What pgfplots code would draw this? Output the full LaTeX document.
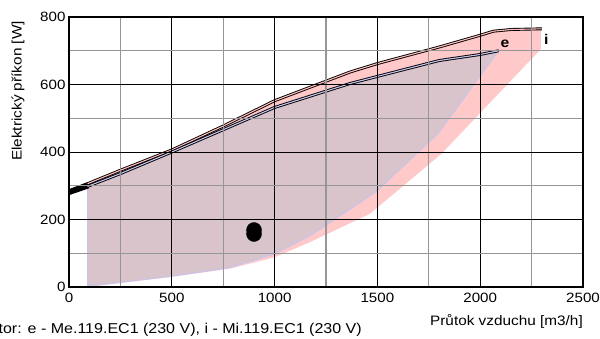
\documentclass[border=0pt]{standalone}
\usepackage{fontspec}
\setmainfont[FakeStretch=1.12]{Liberation Sans}
\usepackage{pgfplots}
\pgfplotsset{compat=1.18}
\definecolor{pinkfill}{RGB}{255,201,201}
\definecolor{mauvefill}{RGB}{217,196,203}
\definecolor{lavline}{RGB}{196,196,238}
\definecolor{pinkline}{RGB}{255,190,190}
\definecolor{minorgrid}{RGB}{150,150,150}
\begin{document}
\begin{tikzpicture}[x=1pt,y=1pt]
\begin{axis}[
  at={(69pt,51pt)}, anchor=south west,
  width=514pt, height=270pt, scale only axis,
  xmin=0, xmax=2500, ymin=0, ymax=800,
  xtick={0,500,...,2500}, ytick={0,200,...,800},
  minor xtick={250,750,...,2250}, minor ytick={100,300,...,700},
  major tick length=0pt, minor tick length=0pt,
  grid=both,
  major grid style={black, line width=0.8pt},
  minor grid style={minorgrid, line width=1.1pt},
  axis line style={black, line width=1.6pt},
  axis on top,
  tick label style={font=\fontsize{13.5}{15}\selectfont},
  /pgf/number format/assume math mode=true,
  /pgf/number format/1000 sep={},
  scaled ticks=false,
  xticklabel style={yshift=-3pt},
  clip=false,
]
% pink region (i)
\addplot[fill=pinkfill, draw=none] coordinates {
 (90,0) (500,30) (780,54) (1000,88) (1172,133) (1464,217) (1812,395) (2295,705) (2295,765)
 (2150,763) (2064,758) (2000,746) (1800,711) (1500,662) (1367,637) (1000,552) (750,477) (500,406) (250,346) (90,306)
} -- cycle;
% mauve region (e)
\addplot[fill=mauvefill, draw=none] coordinates {
 (90,2) (500,32) (780,57) (1000,98) (1172,152) (1285,197) (1495,283) (1795,455) (2090,700)
 (2000,689) (1800,671) (1500,624) (1367,603) (1000,532) (750,466) (500,400) (250,336) (90,298)
} -- cycle;
% lavender boundary
\addplot[lavline, line width=0.9pt] coordinates {
 (90,298) (90,2) (500,32) (780,57) (1000,98) (1172,152) (1285,197) (1495,283) (1795,455) (2090,700)
};
% left black parts
\addplot[black, line width=3.2pt] coordinates {(0,285) (95,307)};
\addplot[black, line width=3.2pt] coordinates {(0,277) (95,297)};
% i curve
\addplot[draw=black, double=pinkline, double distance=1.1pt, line width=0.9pt] coordinates {
 (90,306) (250,346) (500,406) (750,477) (1000,552) (1367,637) (1500,662) (1800,711) (2000,746) (2064,758) (2150,763) (2300,765)
};
% e curve
\addplot[draw=black, double=lavline, double distance=1.1pt, line width=0.9pt] coordinates {
 (90,298) (250,336) (500,400) (750,466) (1000,532) (1367,603) (1500,624) (1800,671) (2000,689) (2090,700)
};
% operating point
\addplot[only marks, mark=*, mark size=7.5pt, black] coordinates {(900,169) (900,157)};
\node[font=\fontsize{14}{16}\selectfont\bfseries] at (axis cs:2121,721) {e};
\node[font=\fontsize{14}{16}\selectfont\bfseries] at (axis cs:2322,733) {i};
\end{axis}
\node[rotate=90, font=\fontsize{13.7}{15}\selectfont] at (18,247) {Elektrický příkon [W]};
\node[anchor=base east, inner sep=0pt, font=\fontsize{13.7}{15}\selectfont] at (583,13) {Průtok vzduchu [m3/h]};
\node[anchor=base east, inner sep=0pt, font=\fontsize{14.3}{16}\selectfont] at (362,5) {Ventilátor: e - Me.119.EC1 (230 V), i - Mi.119.EC1 (230 V)};
\pgfresetboundingbox
\useasboundingbox (0,0) rectangle (600,338);
\end{tikzpicture}
\end{document}
